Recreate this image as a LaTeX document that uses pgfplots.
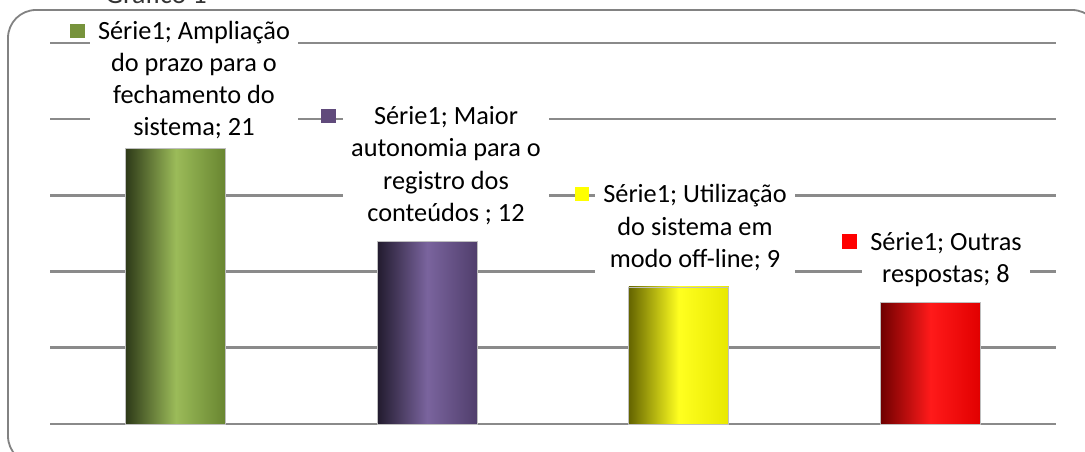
\documentclass[border=0pt]{standalone}
\usepackage{pgfplots}
\pgfplotsset{compat=1.18}
\usepackage{fontspec}
\setmainfont{Carlito}
\definecolor{gridgray}{RGB}{138,138,138}
\definecolor{frame}{RGB}{130,130,130}
\definecolor{kgreen}{RGB}{119,147,60}
\definecolor{kpurple}{RGB}{96,74,123}
\definecolor{kyellow}{RGB}{255,255,0}
\definecolor{kred}{RGB}{255,0,0}
\newcommand{\lab}{\fontsize{13.2}{16.2}\selectfont}
\begin{document}
\begin{tikzpicture}
\useasboundingbox (0,0) rectangle (542.5bp,226bp);
\clip (0,0) rectangle (542.5bp,226bp);
\draw[frame, line width=0.9bp, rounded corners=14bp] (4bp,-6bp) rectangle (550bp,221bp);
\node[anchor=base west, text=black!80, font=\fontsize{14}{16}\selectfont, inner sep=0pt] at (52.5bp,224bp) {Gráfico 1};
\begin{axis}[
  at={(25bp,14bp)}, anchor=south west,
  width=503bp, height=190.5bp, scale only axis,
  xmin=-0.5, xmax=3.5, ymin=0, ymax=25,
  ytick={0,5,10,15,20,25}, xtick=\empty,
  yticklabels={}, major tick length=0pt,
  ymajorgrids, grid style={gridgray, line width=1.3bp},
  axis line style={draw=none},
  ybar, bar width=50bp, bar shift=0pt,
  clip=false,
]
\addplot[draw=gray!50, line width=0.3bp, left color={rgb,255:red,46;green,58;blue,24}, right color={rgb,255:red,104;green,133;blue,48}, middle color={rgb,255:red,155;green,187;blue,89}] coordinates {(0,18.1)};
\addplot[draw=gray!50, line width=0.3bp, left color={rgb,255:red,34;green,27;blue,46}, right color={rgb,255:red,80;green,62;blue,108}, middle color={rgb,255:red,122;green,100;blue,158}] coordinates {(1,12)};
\addplot[draw=gray!50, line width=0.3bp, left color={rgb,255:red,100;green,100;blue,0}, right color={rgb,255:red,232;green,232;blue,0}, middle color={rgb,255:red,255;green,255;blue,32}] coordinates {(2,9)};
\addplot[draw=gray!50, line width=0.3bp, left color={rgb,255:red,110;green,0;blue,0}, right color={rgb,255:red,225;green,0;blue,0}, middle color={rgb,255:red,255;green,26;blue,26}] coordinates {(3,8)};

\node[fill=white, align=center, inner xsep=4bp, inner ysep=1bp, font=\lab] at (axis cs:0.0726,22.57) {Série1; Ampliação\\do prazo para o\\fechamento do\\sistema; 21};
\node[fill=kgreen, minimum size=7.3bp, inner sep=0pt] at (axis cs:-0.391,25.79) {};

\node[fill=white, align=center, inner xsep=4bp, inner ysep=1bp, font=\lab] at (axis cs:1.0746,16.96) {Série1; Maior\\autonomia para o\\registro dos\\conteúdos ; 12};
\node[fill=kpurple, minimum size=7.3bp, inner sep=0pt] at (axis cs:0.607,20.21) {};

\node[fill=white, align=center, inner xsep=4bp, inner ysep=1bp, font=\lab] at (axis cs:2.0646,12.89) {Série1; Utilização\\do sistema em\\modo off-line; 9};
\node[fill=kyellow, minimum size=7.3bp, inner sep=0pt] at (axis cs:1.615,15.09) {};

\node[fill=white, align=center, inner xsep=4bp, inner ysep=1bp, font=\lab] at (axis cs:3.0626,10.79) {Série1; Outras\\respostas; 8};
\node[fill=kred, minimum size=7.3bp, inner sep=0pt] at (axis cs:2.679,11.98) {};
\end{axis}
\end{tikzpicture}
\end{document}
